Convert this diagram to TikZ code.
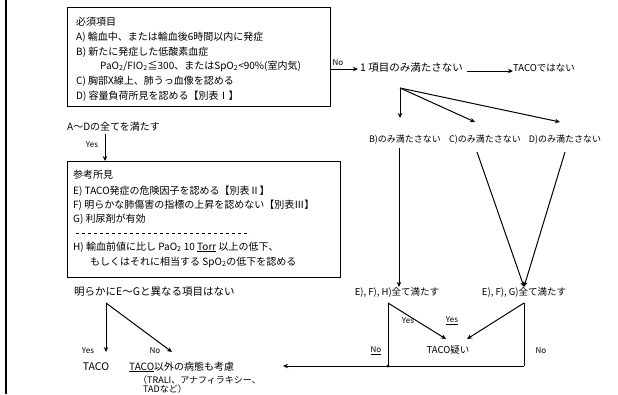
\documentclass[tikz,border=0pt]{standalone}
\usepackage{fontspec}
\setmainfont{Noto Sans CJK JP}
\usetikzlibrary{arrows.meta}
\begin{document}
\begin{tikzpicture}[x=1pt,y=-1pt,
  txt/.style={anchor=west, inner sep=0pt, font=\fontsize{10}{12}\selectfont},
  ctxt/.style={anchor=center, inner sep=0pt, font=\fontsize{9.5}{11}\selectfont},
  small/.style={inner sep=0pt, font=\fontsize{9}{10}\selectfont},
  lbl/.style={inner sep=0pt, font=\fontsize{8}{9}\selectfont},
  box/.style={draw, line width=1.3pt, anchor=north west, inner sep=0pt},
  conn/.style={line width=1pt},
  arr/.style={conn, -{Stealth[length=5pt,width=4.5pt]}},
]
\useasboundingbox (0,0) rectangle (618,394);
\draw[line width=1.2pt] (6,0) -- (6,394);

% box 1
\node[box, minimum width=263pt, minimum height=99pt] (box1) at (67,7) {};
\node[txt] (h1) at (76,22) {必須項目};
\node[txt] (ta) at (76,37) {A)\ 輸血中、または輸血後6時間以内に発症};
\node[txt] (tb) at (76,52) {B)\ 新たに発症した低酸素血症};
\node[txt] (tb2) at (100,66) {PaO\textsubscript{2}/FIO\textsubscript{2}≦300、またはSpO\textsubscript{2}<90\%(室内気)};
\node[txt] (tc) at (76,81) {C)\ 胸部X線上、肺うっ血像を認める};
\node[txt] (td) at (76,96) {D)\ 容量負荷所見を認める【別表Ⅰ】};

\node[txt] (q1) at (67,127) {A～Dの全てを満たす};
\coordinate (yesTop) at (105,134);
\node[box, minimum width=273pt, minimum height=116pt] (box2) at (67,161) {};
\draw[arr] (yesTop) -- (yesTop |- box2.north);
\node[lbl] (yes1) at (92,145) {Yes};

% box 2
\node[txt] (h2) at (73,175) {参考所見};
\node[txt] (te) at (73,191) {E)\ TACO発症の危険因子を認める【別表Ⅱ】};
\node[txt] (tf) at (73,205) {F)\ 明らかな肺傷害の指標の上昇を認めない【別表Ⅲ】};
\node[txt] (tg) at (73,219) {G)\ 利尿剤が有効};
\coordinate (dashA) at (76,233);
\coordinate (dashB) at (250,233);
\draw[dashed, line width=0.7pt, dash pattern=on 3pt off 3pt] (dashA) -- (dashB);
\node[txt] (th) at (73,247) {H)\ 輸血前値に比し PaO\textsubscript{2} 10 \underline{Torr} 以上の低下、};
\node[txt] (th2) at (90,262) {もしくはそれに相当する SpO\textsubscript{2}の低下を認める};

\node[txt, font=\fontsize{10.5}{12}\selectfont] (q2) at (74,292) {明らかにE～Gと異なる項目はない};
\coordinate (j2) at (106,303);
\coordinate (j2a) at (106,352);
\coordinate (j2b) at (172,352);
\draw[arr] (j2) -- (j2a);
\draw[arr] (j2) -- (j2b);
\node[lbl] (yes2) at (88,351) {Yes};
\node[lbl] (no2) at (155,351) {No};
\node[ctxt, font=\fontsize{10.5}{12}\selectfont] (taco) at (96,367) {TACO};
\node[txt] (other) at (129,367) {\underline{TACO}以外の病態も考慮};
\node[small, anchor=west] (trali) at (138,380) {（TRALI、アナフィラキシー、};
\node[small, anchor=west] (tad) at (143,389) {TADなど）};

% right side
\coordinate (no1s) at (box1.east |- 0,69);
\coordinate (no1e) at (358,69);
\draw[arr] (no1s) -- (no1e);
\node[lbl] (no1) at (338,63) {No};
\node[ctxt, anchor=west, font=\fontsize{10.5}{12}\selectfont] (one) at (360,68) {1 項目のみ満たさない};
\node[ctxt, anchor=west] (notaco) at (513,68) {TACOではない};
\draw[arr] (one.east |- 0,71) ++(4,0) coordinate (na) -- (notaco.west |- na);

\coordinate (j1) at (400,88);
\coordinate (j1a) at (400,118);
\coordinate (j1b) at (475,122);
\coordinate (j1c) at (560,122);
\draw[arr] (j1) -- (j1a);
\draw[arr] (j1) -- (j1b);
\draw[arr] (j1) -- (j1c);
\node[ctxt, font=\fontsize{9}{10}\selectfont] (onlyB) at (405,140) {B)のみ満たさない};
\node[ctxt, font=\fontsize{9}{10}\selectfont] (onlyC) at (485,140) {C)のみ満たさない};
\node[ctxt, font=\fontsize{9}{10}\selectfont] (onlyD) at (565,140) {D)のみ満たさない};

\node[ctxt] (efh) at (397,292) {E), F), H)全て満たす};
\node[ctxt] (efg) at (524,292) {E), F), G)全て満たす};
\draw[arr] (onlyB.south -| 399,0) ++(0,3) -- (efh.north -| 399,0);
\draw[arr] (477,152) -- (efg.north);
\draw[arr] (565,152) -- (efg.north);

\coordinate (k1) at (388,303);
\coordinate (k2) at (524,303);
\coordinate (kb1) at (388,366);
\coordinate (kb2) at (524,366);
\coordinate (kend) at (283,366);
\node[ctxt] (susp) at (448,350) {TACO疑い};
\draw[arr] (k1) -- (446,339);
\draw[arr] (k2) -- (467,339);
\draw[conn] (k1) -- (kb1);
\draw[conn] (k2) -- (kb2);
\draw[arr] (kb2) -- (kend);
\fill (kb1) circle (1.6pt);
\node[lbl] (yes3) at (408,321) {Yes};
\node[lbl] (yes4) at (452,321) {\underline{Yes}};
\node[lbl] (no3) at (376,351) {\underline{No}};
\node[lbl] (no4) at (541,351) {No};
\end{tikzpicture}
\end{document}
